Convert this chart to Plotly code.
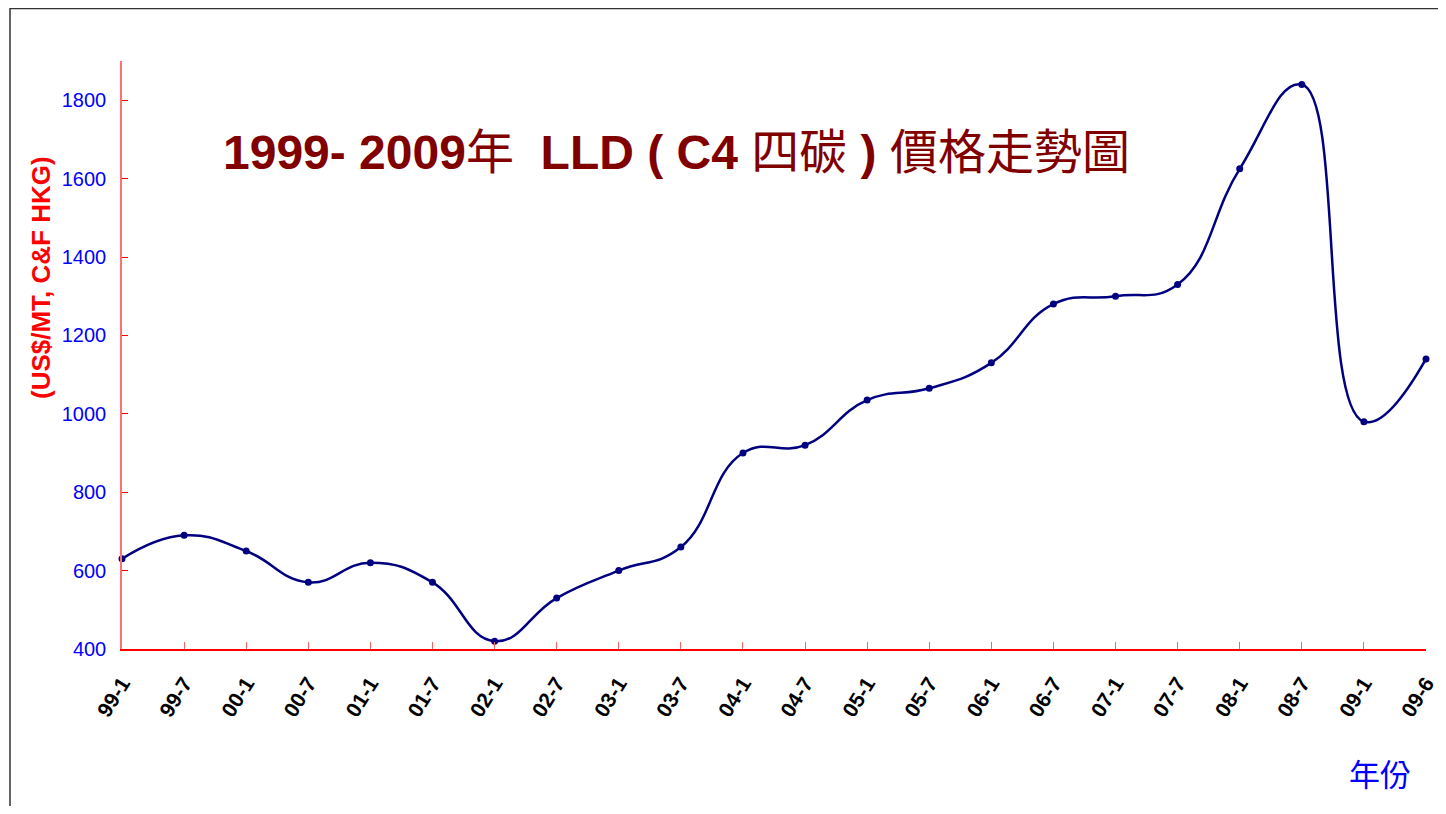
import plotly.graph_objects as go

categories = ["99-1", "99-7", "00-1", "00-7", "01-1", "01-7", "02-1", "02-7", "03-1", "03-7",
              "04-1", "04-7", "05-1", "05-7", "06-1", "06-7", "07-1", "07-7", "08-1", "08-7",
              "09-1", "09-6"]
prices = [630, 690, 650, 570, 620, 570, 420, 530, 600, 660,
          900, 920, 1035, 1065, 1130, 1280, 1300, 1330, 1625, 1840,
          980, 1140]
y_ticks = [400, 600, 800, 1000, 1200, 1400, 1600, 1800]

# the page body has an 8px margin; work in page coordinates and convert
OFF = 8
W, H = 1446 - 2 * OFF, 814 - 2 * OFF
PL, PR, PT, PB = 122, 1426, 61, 649          # plot area in page pixels
L, T = PL - OFF, PT - OFF
R = W - (PR - OFF)
B = H - (PB - OFF)
pw, ph = PR - PL, PB - PT

def px(x):
    return (x - PL) / pw

def py(y):
    return (PB - y) / ph

fig = go.Figure()
fig.add_trace(go.Scatter(
    x=list(range(len(categories))), y=prices,
    mode="lines+markers",
    line=dict(color="#000080", width=2.5, shape="spline", smoothing=1.3),
    marker=dict(color="#000080", size=7),
    showlegend=False,
    cliponaxis=False,
))

fig.update_layout(
    width=W, height=H,
    margin=dict(l=L, r=R, t=T, b=B, autoexpand=False),
    paper_bgcolor="white", plot_bgcolor="white",
    font=dict(family="Liberation Sans, Arial, Noto Sans CJK TC", size=20),
    xaxis=dict(
        range=[0, len(categories) - 1],
        tickmode="array", tickvals=list(range(len(categories))),
        ticktext=["<b>%s</b>" % c for c in categories],
        tickangle=-58, tickfont=dict(color="black", size=21),
        showgrid=False, zeroline=False, automargin=False,
        showline=True, linecolor="red", linewidth=1.5,
        ticks="inside", ticklen=7, tickcolor="#ff6060",
        ticklabelstandoff=12, ticklabeloverflow="allow",
    ),
    yaxis=dict(
        range=[400, 1900],
        tickmode="array", tickvals=y_ticks,
        tickfont=dict(color="#0000ff", size=20),
        showgrid=False, zeroline=False, automargin=False,
        showline=True, linecolor="#ff7070", linewidth=1.5,
        ticks="inside", ticklen=6, tickcolor="red",
        ticklabelstandoff=10, ticklabeloverflow="allow",
    ),
    shapes=[dict(
        type="rect", xref="paper", yref="paper",
        x0=px(10), x1=px(1470), y0=py(840), y1=py(8.6),
        line=dict(color="#333333", width=1.5), fillcolor="rgba(0,0,0,0)",
        layer="below",
    )],
    annotations=[
        dict(
            text="<b>1999- 2009</b>年  <b>LLD ( C4 </b>四碳<b> ) </b>價格走勢圖",
            xref="paper", yref="paper", x=px(676), y=py(152),
            xanchor="center", yanchor="middle", showarrow=False,
            font=dict(family="Liberation Sans, Arial, Noto Sans CJK TC", size=48, color="#800000"),
        ),
        dict(
            text="<b>(US$/MT, C&F HKG)</b>",
            xref="paper", yref="paper", x=px(41), y=py(278),
            xanchor="center", yanchor="middle", showarrow=False, textangle=-90,
            font=dict(family="Liberation Sans, Arial", size=26, color="#ff0000"),
        ),
        dict(
            text="年份",
            xref="paper", yref="paper", x=px(1380), y=py(772),
            xanchor="center", yanchor="middle", showarrow=False,
            font=dict(family="Noto Sans CJK TC", size=31, color="#0000ff"),
        ),
    ],
)

fig.write_html("out.html")
